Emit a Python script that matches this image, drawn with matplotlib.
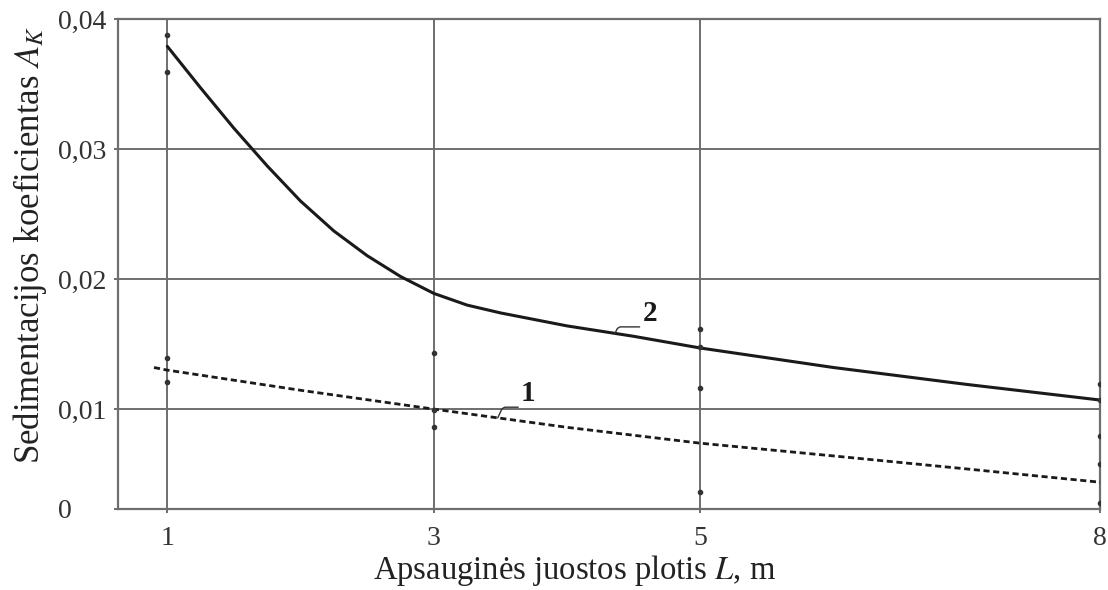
import numpy as np
import matplotlib.pyplot as plt

plt.rcParams['font.family'] = ['Liberation Serif', 'DejaVu Serif']
plt.rcParams['mathtext.fontset'] = 'stix'

# kreivė 2 (ištisinė)
x_2 = [1.0, 1.25, 1.5, 1.75, 2.0, 2.25, 2.5, 2.75, 3.0, 3.25, 3.5, 3.75, 4.0, 4.5, 5.0, 6.0, 7.0, 8.0]
y_2 = [0.0379, 0.0347, 0.0316, 0.0287, 0.0260, 0.0237, 0.0218, 0.0202, 0.0189, 0.0180,
       0.0174, 0.0169, 0.0164, 0.0156, 0.0147, 0.0132, 0.0119, 0.0107]

# kreivė 1 (punktyrinė)
x_1 = [0.9, 1.0, 2.0, 3.0, 3.5, 4.0, 5.0, 6.0, 7.0, 8.0]
y_1 = [0.0132, 0.0130, 0.01145, 0.0100, 0.0093, 0.0086, 0.00738, 0.0064, 0.0054, 0.00438]

# matavimų taškai
pts_x = [1, 1, 1, 1, 3, 3, 3, 5, 5, 5, 5, 8, 8, 8, 8, 8]
pts_y = [0.0388, 0.0359, 0.0139, 0.0121, 0.0143, 0.0099, 0.0086,
         0.0162, 0.0148, 0.0116, 0.0036, 0.0119, 0.0107, 0.0079, 0.0058, 0.0028]

xticks = [1, 3, 5, 8]
yticks = [0.00232, 0.01, 0.02, 0.03, 0.04]
ytick_labels = ['0', '0,01', '0,02', '0,03', '0,04']

fig = plt.figure(figsize=(11.08, 5.90), dpi=100)
ax = fig.add_axes([118/1108, 1-509/590, 982/1108, 490/590])

grey = '#6e6e6e'
ax.plot(x_2, y_2, color='#1a1a1a', lw=2.2, solid_capstyle='round', zorder=3)
ax.plot(x_1, y_1, color='#1a1a1a', lw=2.0, ls=(0, (2.2, 1.3)), zorder=3)
ax.scatter(pts_x, pts_y, s=9, color='#333333', zorder=4)

ax.set_xlim(0.63, 8.0)
ax.set_ylim(0.00232, 0.04)
ax.set_xticks(xticks)
ax.set_xticklabels([str(v) for v in xticks])
ax.set_yticks(yticks)
ax.set_yticklabels(ytick_labels, ha='left')
ax.grid(True, color=grey, lw=1.4)
ax.set_axisbelow(True)
for s in ax.spines.values():
    s.set_color(grey)
    s.set_linewidth(1.6)
ax.tick_params(axis='both', colors=grey, length=3, width=1.4, labelsize=20,
               labelcolor='#333333')
ax.tick_params(axis='y', pad=40)
ax.tick_params(axis='x', pad=9)

ax.set_xlabel('Apsauginės juostos plotis $L$, m', fontsize=23.5, color='#222222', va='center')
ax.xaxis.set_label_coords(0.465, -0.126)
ax.set_ylabel('Sedimentacijos koeficientas $A_K$', fontsize=25, color='#222222', va='center')
ax.yaxis.set_label_coords(-0.09, 0.54)

# kreivių numeriai su nuorodomis
for num, xs, ys, xa, off in [('2', x_2, y_2, 4.36, (25, 9)), ('1', x_1, y_1, 3.48, (22, 12))]:
    ya = np.interp(xa, xs, ys)
    ax.annotate(num, xy=(xa, ya), xytext=off, textcoords='offset points',
                fontsize=21, fontweight='bold', ha='center', va='baseline',
                color='#1a1a1a',
                arrowprops=dict(arrowstyle='-', color='#333333', lw=1.0,
                                relpos=(1.0, 0.0), shrinkA=0, shrinkB=0,
                                connectionstyle='angle,angleA=0,angleB=65,rad=3'))

fig.savefig('out.png', dpi=100, facecolor='white')
